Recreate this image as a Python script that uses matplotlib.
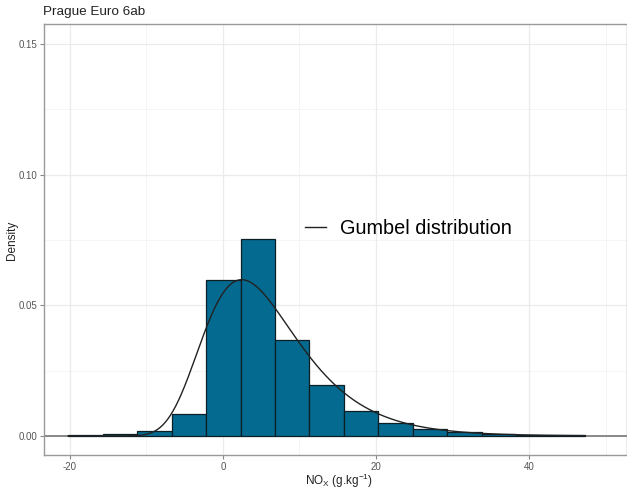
import numpy as np
import matplotlib
matplotlib.use("Agg")
import matplotlib.pyplot as plt

plt.rcParams["font.family"] = ["Liberation Sans", "DejaVu Sans"]
plt.rcParams["mathtext.fontset"] = "custom"
plt.rcParams["mathtext.rm"] = "Liberation Sans"
plt.rcParams["mathtext.it"] = "Liberation Sans:italic"

# ---- data ----
bin_edges = [-20.2, -15.7, -11.2, -6.7, -2.2, 2.3, 6.8, 11.3, 15.8, 20.3,
             24.8, 29.3, 33.8, 38.3, 42.8, 47.3]
densities = [0.0004, 0.0007, 0.0017, 0.0084, 0.0597, 0.0755, 0.0367, 0.0196,
             0.0097, 0.0049, 0.0026, 0.0015, 0.0008, 0.0005, 0.0004]
gumbel_mu = 2.45
gumbel_beta = 6.15
x_ticks = [-20, 0, 20, 40]
y_ticks = [0.00, 0.05, 0.10, 0.15]
title = "Prague Euro 6ab"

W, H = 627, 490
fig = plt.figure(figsize=(W / 100, H / 100), dpi=100)
left, right, top, bottom = 44, 627, 24, 455
ax = fig.add_axes([left / W, 1 - bottom / H, (right - left) / W, (bottom - top) / H])

ax.set_xlim(-23.35, 52.75)
ax.set_ylim(-0.0073, 0.1577)

# grid (ggplot theme_bw style)
for v in [-10, 10, 30, 50]:
    ax.axvline(v, color="#f4f4f4", lw=0.6, zorder=0)
for v in [0.025, 0.075, 0.125]:
    ax.axhline(v, color="#f4f4f4", lw=0.6, zorder=0)
for v in x_ticks:
    ax.axvline(v, color="#ebebeb", lw=0.9, zorder=0)
for v in y_ticks:
    ax.axhline(v, color="#ebebeb", lw=0.9, zorder=0)

edges = np.array(bin_edges)
ax.bar(edges[:-1], densities, width=np.diff(edges), align="edge",
       color="#046a8f", edgecolor="#0d1f26", linewidth=0.9, zorder=2)

ax.axhline(0, color="#777777", lw=1.2, zorder=1)
xs = np.linspace(edges[0], edges[-1], 600)
z = (xs - gumbel_mu) / gumbel_beta
pdf = np.exp(-(z + np.exp(-z))) / gumbel_beta
line, = ax.plot(xs, pdf, color="#222222", lw=1.0, zorder=3, label="Gumbel distribution")

leg = ax.legend(handles=[line], loc="center left",
                bbox_to_anchor=(305 / W, 1 - 228 / H), bbox_transform=fig.transFigure,
                frameon=False, fontsize=14.3, handlelength=1.05, handletextpad=0.7,
                borderpad=0, borderaxespad=0)

ax.set_xticks(x_ticks)
ax.set_xticklabels([f"{v:g}" for v in x_ticks])
ax.set_yticks(y_ticks)
ax.set_yticklabels([f"{v:.2f}" for v in y_ticks])
ax.tick_params(colors="#888888", labelcolor="#555555", labelsize=7, length=3, width=0.8, pad=2)

for s in ax.spines.values():
    s.set_color("#999999")
    s.set_linewidth(1.0)

fig.text(12 / W, 1 - 240 / H, "Density", fontsize=8.5, color="#222222",
         rotation=90, va="center", ha="center")
fig.text(339 / W, 1 - 481 / H, r"NO$_\mathrm{X}$ (g.kg$^{-1}$)", fontsize=8.5,
         color="#222222", va="center", ha="center")
fig.text(43 / W, 1 - 12.5 / H, title, fontsize=9.7, color="#222222", va="center", ha="left")

fig.savefig("out.png", dpi=100)
